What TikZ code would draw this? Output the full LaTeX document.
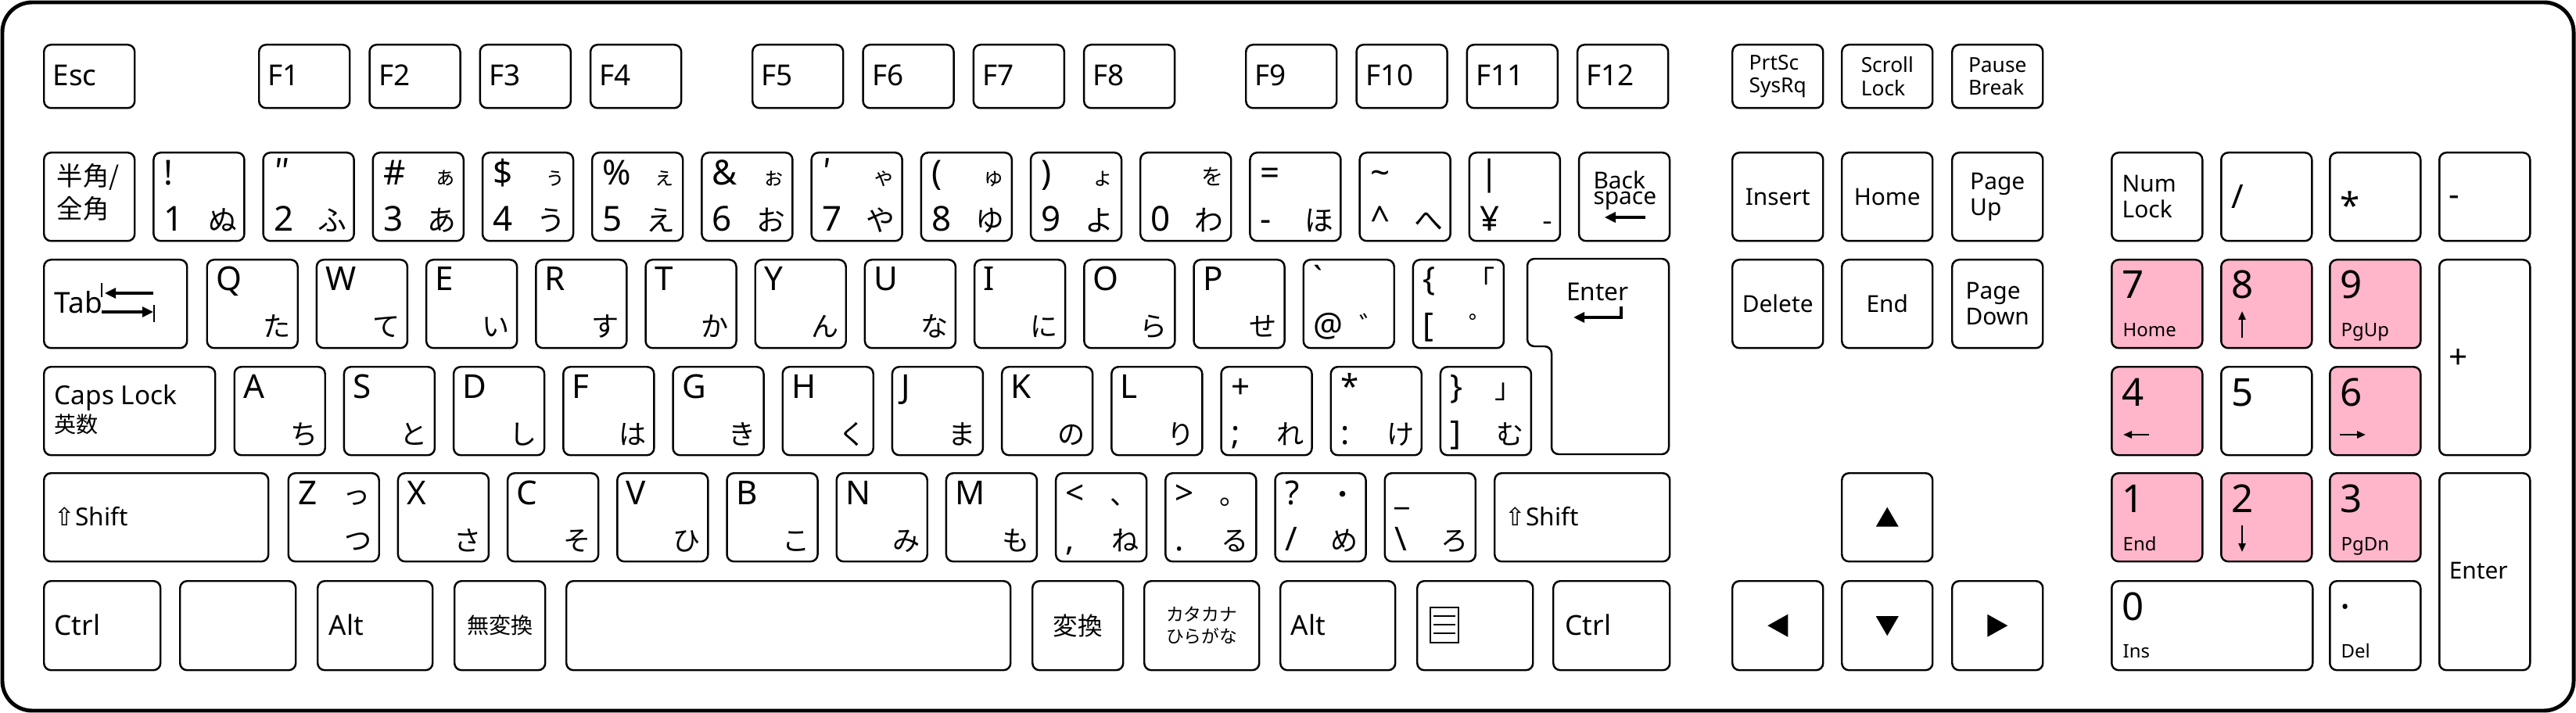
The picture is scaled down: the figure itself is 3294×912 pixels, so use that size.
\documentclass[tikz,border=0pt]{standalone}
\usepackage{fontspec}
\setmainfont{Noto Sans}
\newfontfamily\jpfont{Noto Sans CJK JP}
\newfontfamily\symfont{DejaVu Sans}
\usetikzlibrary{arrows.meta}
\definecolor{numpink}{RGB}{255,181,202}
\tikzset{keycap/.style={draw, line width=0.7pt, rounded corners=0.9mm, anchor=north west, inner sep=0pt, minimum width=11.6mm, minimum height=11.3mm},
  fkey/.style={keycap, minimum height=8.1mm},
  pinkkey/.style={keycap, fill=numpink},
  symlg/.style={inner sep=0pt, font=\fontsize{12.5}{12.5}\selectfont},
  ltr/.style={inner sep=0pt, font=\fontsize{12}{12}\selectfont},
  kana/.style={inner sep=0pt, font=\jpfont\fontsize{10.5}{10.5}\selectfont},
  kanas/.style={inner sep=0pt, font=\jpfont\fontsize{10}{10}\selectfont},
  kanat/.style={inner sep=0pt, font=\jpfont\fontsize{8}{8}\selectfont},
  fname/.style={inner sep=0pt, font=\fontsize{10.5}{10.5}\selectfont},
  modname/.style={inner sep=0pt, font=\fontsize{10}{10}\selectfont},
  navname/.style={inner sep=0pt, align=left, font=\fontsize{8.5}{9.4}\selectfont},
  smallname/.style={inner sep=0pt, align=left, font=\fontsize{7.5}{8.4}\selectfont},
  numdigit/.style={inner sep=0pt, font=\fontsize{14}{14}\selectfont},
  numsub/.style={inner sep=0pt, font=\fontsize{6.8}{6.8}\selectfont},
  arr/.style={line width=0.9pt, -{Triangle[length=1.4mm, width=1.3mm]}},
  numarr/.style={line width=0.7pt, -{Triangle[length=1.1mm, width=0.9mm]}}}
% key with four legends: node, top left, top right, bottom left, bottom right
\newcommand\fourleg[5]{%
  \node[ltr, anchor=base west] at ([shift={(13,41)}]#1.north west) {#2};
  \node[kanas, anchor=base east] at ([shift={(-12,41)}]#1.north east) {#3};
  \node[ltr, anchor=base west] at ([shift={(13,100)}]#1.north west) {#4};
  \node[kanas, anchor=base east] at ([shift={(-10,100)}]#1.north east) {#5};}

\begin{document}
\begin{tikzpicture}[x=0.1mm, y=-0.1mm]
  \useasboundingbox (0,0) rectangle (3294,912);
  \draw[line width=1.4pt, rounded corners=3.8mm] (3,3) rectangle (3291,909);
  % function row
  \node[fkey] (esc) at (55,56) {};
  \node[fname, anchor=base west] at ([shift={(12,54)}]esc.north west) {Esc};
  \foreach \g/\x in {0/330,1/961,2/1592} {
    \foreach \j in {1,...,4} {
      \pgfmathtruncatemacro\f{4*\g+\j}
      \node[fkey] (f\f) at (\x+141.3*\j-141.3,56) {};
      \node[fname, anchor=base west] at ([shift={(12,54)}]f\f.north west) {F\f};
    }
  }
  \foreach \n/\x/\lbl in {prtsc/2214/PrtSc\\SysRq, scroll/2354/Scroll\\Lock, pause/2495/Pause\\Break} {
    \node[fkey] (\n) at (\x,56) {};
    \node[smallname] at (\n.center) {\lbl};
  }
  % number row
  \node[keycap] (hz) at (55,194) {};
  \node[inner sep=0pt, anchor=base west, font=\jpfont\fontsize{9.5}{9.5}\selectfont] at ([shift={(17,44)}]hz.north west) {半角/};
  \node[inner sep=0pt, anchor=base west, font=\jpfont\fontsize{9.5}{9.5}\selectfont] at ([shift={(17,86)}]hz.north west) {全角};
  \foreach \k/\tsym/\tkana/\bsym/\bkana [count=\i] in {1/!//1/ぬ, 2/{\jpfont ″}//2/ふ, 3/\#/ぁ/3/あ, 4/\$/ぅ/4/う, 5/\%/ぇ/5/え, 6/\&/ぉ/6/お, 7/{\jpfont ′}/ゃ/7/や, 8/{(}/ゅ/8/ゆ, 9/{)}/ょ/9/よ, 0//を/0/わ, minus/=//-/ほ, caret/\textasciitilde//\textasciicircum/へ, yen/|//¥/-} {
    \node[keycap] (k\k) at (55+140.2*\i,194) {};
    \node[symlg, anchor=base west] at ([shift={(14,43)}]k\k.north west) {\tsym};
    \node[kanat, anchor=base east] at ([shift={(-10,43)}]k\k.north east) {\tkana};
    \node[symlg, anchor=base west] at ([shift={(14,102)}]k\k.north west) {\bsym};
    \node[kana, anchor=base east] at ([shift={(-10,102)}]k\k.north east) {\bkana};
  }
  \node[keycap] (bs) at (55+140.2*14,194) {};
  \node[navname, font=\fontsize{8.5}{5.6}\selectfont, anchor=north west] at ([shift={(19,24)}]bs.north west) {Back\\space};
  \draw[arr] ([shift={(86,84)}]bs.north west) -- ([shift={(34,84)}]bs.north west);
  % top letter row
  \node[keycap, minimum width=18.3mm] (tab) at (55,331) {};
  \node[modname, font=\fontsize{10.5}{10.5}\selectfont, anchor=base west] at ([shift={(14,70)}]tab.north west) {Tab};
  \draw[line width=0.8pt] ([shift={(75,31)}]tab.north west) -- ([shift={(75,49)}]tab.north west);
  \draw[arr] ([shift={(141,44)}]tab.north west) -- ([shift={(79,44)}]tab.north west);
  \draw[arr] ([shift={(75,68)}]tab.north west) -- ([shift={(141,68)}]tab.north west);
  \draw[line width=0.8pt] ([shift={(142,59)}]tab.north west) -- ([shift={(142,81)}]tab.north west);
  \foreach \c/\k [count=\i from 0] in {Q/た,W/て,E/い,R/す,T/か,Y/ん,U/な,I/に,O/ら,P/せ} {
    \node[keycap] (k\c) at (263.5+140.2*\i,331) {};
    \node[ltr, anchor=base west] at ([shift={(12,41)}]k\c.north west) {\c};
    \node[kanas, anchor=base east] at ([shift={(-10,100)}]k\c.north east) {\k};
  }
  \node[keycap] (kat) at (263.5+140.2*10,331) {};
  \fourleg{kat}{\textasciigrave}{}{@}{゛}
  \node[keycap] (klb) at (263.5+140.2*11,331) {};
  \fourleg{klb}{\{}{「}{[}{゜}
  \coordinate (enter) at (2043,331);
  \draw[line width=0.7pt, rounded corners=0.9mm] (1953,331) -- (2134,331) -- (2134,581) -- (1984,581) -- (1984,443) -- (1953,443) -- cycle;
  \node[navname, font=\fontsize{9}{9}\selectfont, anchor=base] at ([shift={(0,54)}]enter) {Enter};
  \draw[arr] ([shift={(30,61)}]enter) -- ++(0,14) -- ++(-61,0);
  % home row
  \node[keycap, minimum width=21.9mm] (caps) at (55,468) {};
  \node[modname, font=\fontsize{9.5}{9.5}\selectfont, anchor=base west] at ([shift={(14,49)}]caps.north west) {Caps Lock};
  \node[inner sep=0pt, font=\jpfont\fontsize{8}{8}\selectfont, anchor=base west] at ([shift={(14,85)}]caps.north west) {英数};
  \foreach \c/\k [count=\i from 0] in {A/ち,S/と,D/し,F/は,G/き,H/く,J/ま,K/の,L/り} {
    \node[keycap] (k\c) at (298.5+140.2*\i,468) {};
    \node[ltr, anchor=base west] at ([shift={(12,41)}]k\c.north west) {\c};
    \node[kanas, anchor=base east] at ([shift={(-10,100)}]k\c.north east) {\k};
  }
  \node[keycap] (ksc) at (298.5+140.2*9,468) {};
  \fourleg{ksc}{+}{}{;}{れ}
  \node[keycap] (kcl) at (298.5+140.2*10,468) {};
  \fourleg{kcl}{*}{}{:}{け}
  \node[keycap] (krb) at (298.5+140.2*11,468) {};
  \fourleg{krb}{\}}{」}{]}{む}
  % bottom letter row
  \node[keycap, minimum width=28.7mm] (lshift) at (55,604) {};
  \node[modname, font=\fontsize{9}{9}\selectfont, anchor=base west] at ([shift={(14,68)}]lshift.north west) {{\symfont ⇧}Shift};
  \node[keycap] (kZ) at (367.5,604) {};
  \fourleg{kZ}{Z}{っ}{}{つ}
  \foreach \c/\k [count=\i] in {X/さ,C/そ,V/ひ,B/こ,N/み,M/も} {
    \node[keycap] (k\c) at (367.5+140.2*\i,604) {};
    \node[ltr, anchor=base west] at ([shift={(12,41)}]k\c.north west) {\c};
    \node[kanas, anchor=base east] at ([shift={(-10,100)}]k\c.north east) {\k};
  }
  \node[keycap] (klt) at (367.5+140.2*7,604) {};
  \fourleg{klt}{<}{、}{,}{ね}
  \node[keycap] (kgt) at (367.5+140.2*8,604) {};
  \fourleg{kgt}{>}{。}{.}{る}
  \node[keycap] (kqm) at (367.5+140.2*9,604) {};
  \fourleg{kqm}{?}{・}{/}{め}
  \node[keycap] (kus) at (367.5+140.2*10,604) {};
  \fourleg{kus}{\_}{}{\textbackslash}{ろ}
  \node[keycap, minimum width=22.4mm] (rshift) at (1910,604) {};
  \node[modname, font=\fontsize{9}{9}\selectfont, anchor=base west] at ([shift={(14,68)}]rshift.north west) {{\symfont ⇧}Shift};
  % space row
  \foreach \n/\x/\w in {lctrl/55/149, blank/229/148, lalt/405/147, muhen/580/116, space/723/568, henkan/1319/116, kkana/1462/147, ralt/1636/147, menu/1811/148, rctrl/1985/149} {
    \node[keycap, minimum width=\w*0.1mm, minimum height=11.4mm] (\n) at (\x,742) {};
  }
  \node[modname, anchor=base west] at ([shift={(14,70)}]lctrl.north west) {Ctrl};
  \node[modname, anchor=base west] at ([shift={(15,70)}]lalt.north west) {Alt};
  \node[inner sep=0pt, font=\jpfont\fontsize{8}{8}\selectfont] at (muhen.center) {無変換};
  \node[inner sep=0pt, font=\jpfont\fontsize{9}{9}\selectfont] at (henkan.center) {変換};
  \node[inner sep=0pt, align=center, font=\jpfont\fontsize{6.5}{8}\selectfont] at (kkana.center) {カタカナ\\ひらがな};
  \node[modname, anchor=base west] at ([shift={(14,70)}]ralt.north west) {Alt};
  \draw[line width=0.8pt] ([shift={(18,35)}]menu.north west) rectangle ([shift={(54,80)}]menu.north west);
  \foreach \y in {46,57,68} {
    \draw[line width=0.8pt] ([shift={(22,\y)}]menu.north west) -- ([shift={(50,\y)}]menu.north west);
  }
  \node[modname, anchor=base west] at ([shift={(16,70)}]rctrl.north west) {Ctrl};
  % navigation cluster
  \foreach \n/\x/\y/\lbl in {ins/2214/194/Insert, home/2354/194/Home, pgup/2495/194/Page\\Up, del/2214/331/Delete, end/2354/331/End, pgdn/2495/331/Page\\Down} {
    \node[keycap] (\n) at (\x,\y) {};
    \node[navname] at (\n.center) {\lbl};
  }
  \node[keycap] (up) at (2354,604) {};
  \node[keycap, minimum height=11.4mm] (left) at (2214,742) {};
  \node[keycap, minimum height=11.4mm] (down) at (2354,742) {};
  \node[keycap, minimum height=11.4mm] (right) at (2495,742) {};
  \fill (up.center) +(0,-13) -- +(14.5,12) -- +(-14.5,12) -- cycle;
  \fill (down.center) +(0,13) -- +(14.5,-12) -- +(-14.5,-12) -- cycle;
  \fill (left.center) +(-13,0) -- +(13,-14.5) -- +(13,14.5) -- cycle;
  \fill (right.center) +(13,0) -- +(-13,-14.5) -- +(-13,14.5) -- cycle;
  % numeric keypad
  \node[keycap] (numlk) at (2699,194) {};
  \node[navname, anchor=west] at ([xshift=1.4mm]numlk.west) {Num\\Lock};
  \node[keycap] (ndiv) at (2839,194) {};
  \node[ltr, anchor=base west] at ([shift={(14,73)}]ndiv.north west) {/};
  \node[keycap] (nmul) at (2978,194) {};
  \node[ltr, font=\fontsize{13}{13}\selectfont, anchor=base west] at ([shift={(14,86)}]nmul.north west) {*};
  \node[keycap] (nsub) at (3118,194) {};
  \node[ltr, anchor=base west] at ([shift={(13,70)}]nsub.north west) {-};
  \node[keycap, minimum height=25mm] (nadd) at (3118,331) {};
  \node[ltr, anchor=base west] at ([shift={(13,140)}]nadd.north west) {+};
  \node[keycap, minimum height=25.2mm] (nent) at (3118,604) {};
  \node[navname, font=\fontsize{8.5}{8.5}\selectfont, anchor=base west] at ([shift={(13,136)}]nent.north west) {Enter};
  \foreach \n/\x/\y/\d/\sub in {n7/2699/331/7/Home, n9/2978/331/9/PgUp, n1/2699/604/1/End, n3/2978/604/3/PgDn, n8/2839/331/8/, n4/2699/468/4/, n6/2978/468/6/, n2/2839/604/2/} {
    \node[pinkkey] (\n) at (\x,\y) {};
    \node[numdigit, anchor=base west] at ([shift={(14,51)}]\n.north west) {\d};
    \node[numsub, anchor=base west] at ([shift={(15,100)}]\n.north west) {\sub};
  }
  \node[keycap] (n5) at (2839,468) {};
  \node[numdigit, anchor=base west] at ([shift={(14,51)}]n5.north west) {5};
  \draw[numarr] ([shift={(28,101)}]n8.north west) -- ([shift={(28,67)}]n8.north west);
  \draw[numarr] ([shift={(28,68)}]n2.north west) -- ([shift={(28,102)}]n2.north west);
  \draw[numarr] ([shift={(49,88)}]n4.north west) -- ([shift={(16,88)}]n4.north west);
  \draw[numarr] ([shift={(14,88)}]n6.north west) -- ([shift={(47,88)}]n6.north west);
  \node[keycap, minimum width=25.7mm, minimum height=11.4mm] (n0) at (2699,742) {};
  \node[numdigit, anchor=base west] at ([shift={(14,51)}]n0.north west) {0};
  \node[numsub, anchor=base west] at ([shift={(15,99)}]n0.north west) {Ins};
  \node[keycap, minimum height=11.4mm] (ndot) at (2978,742) {};
  \node[numdigit, anchor=base west] at ([shift={(14,51)}]ndot.north west) {·};
  \node[numsub, anchor=base west] at ([shift={(15,99)}]ndot.north west) {Del};
\end{tikzpicture}
\end{document}
